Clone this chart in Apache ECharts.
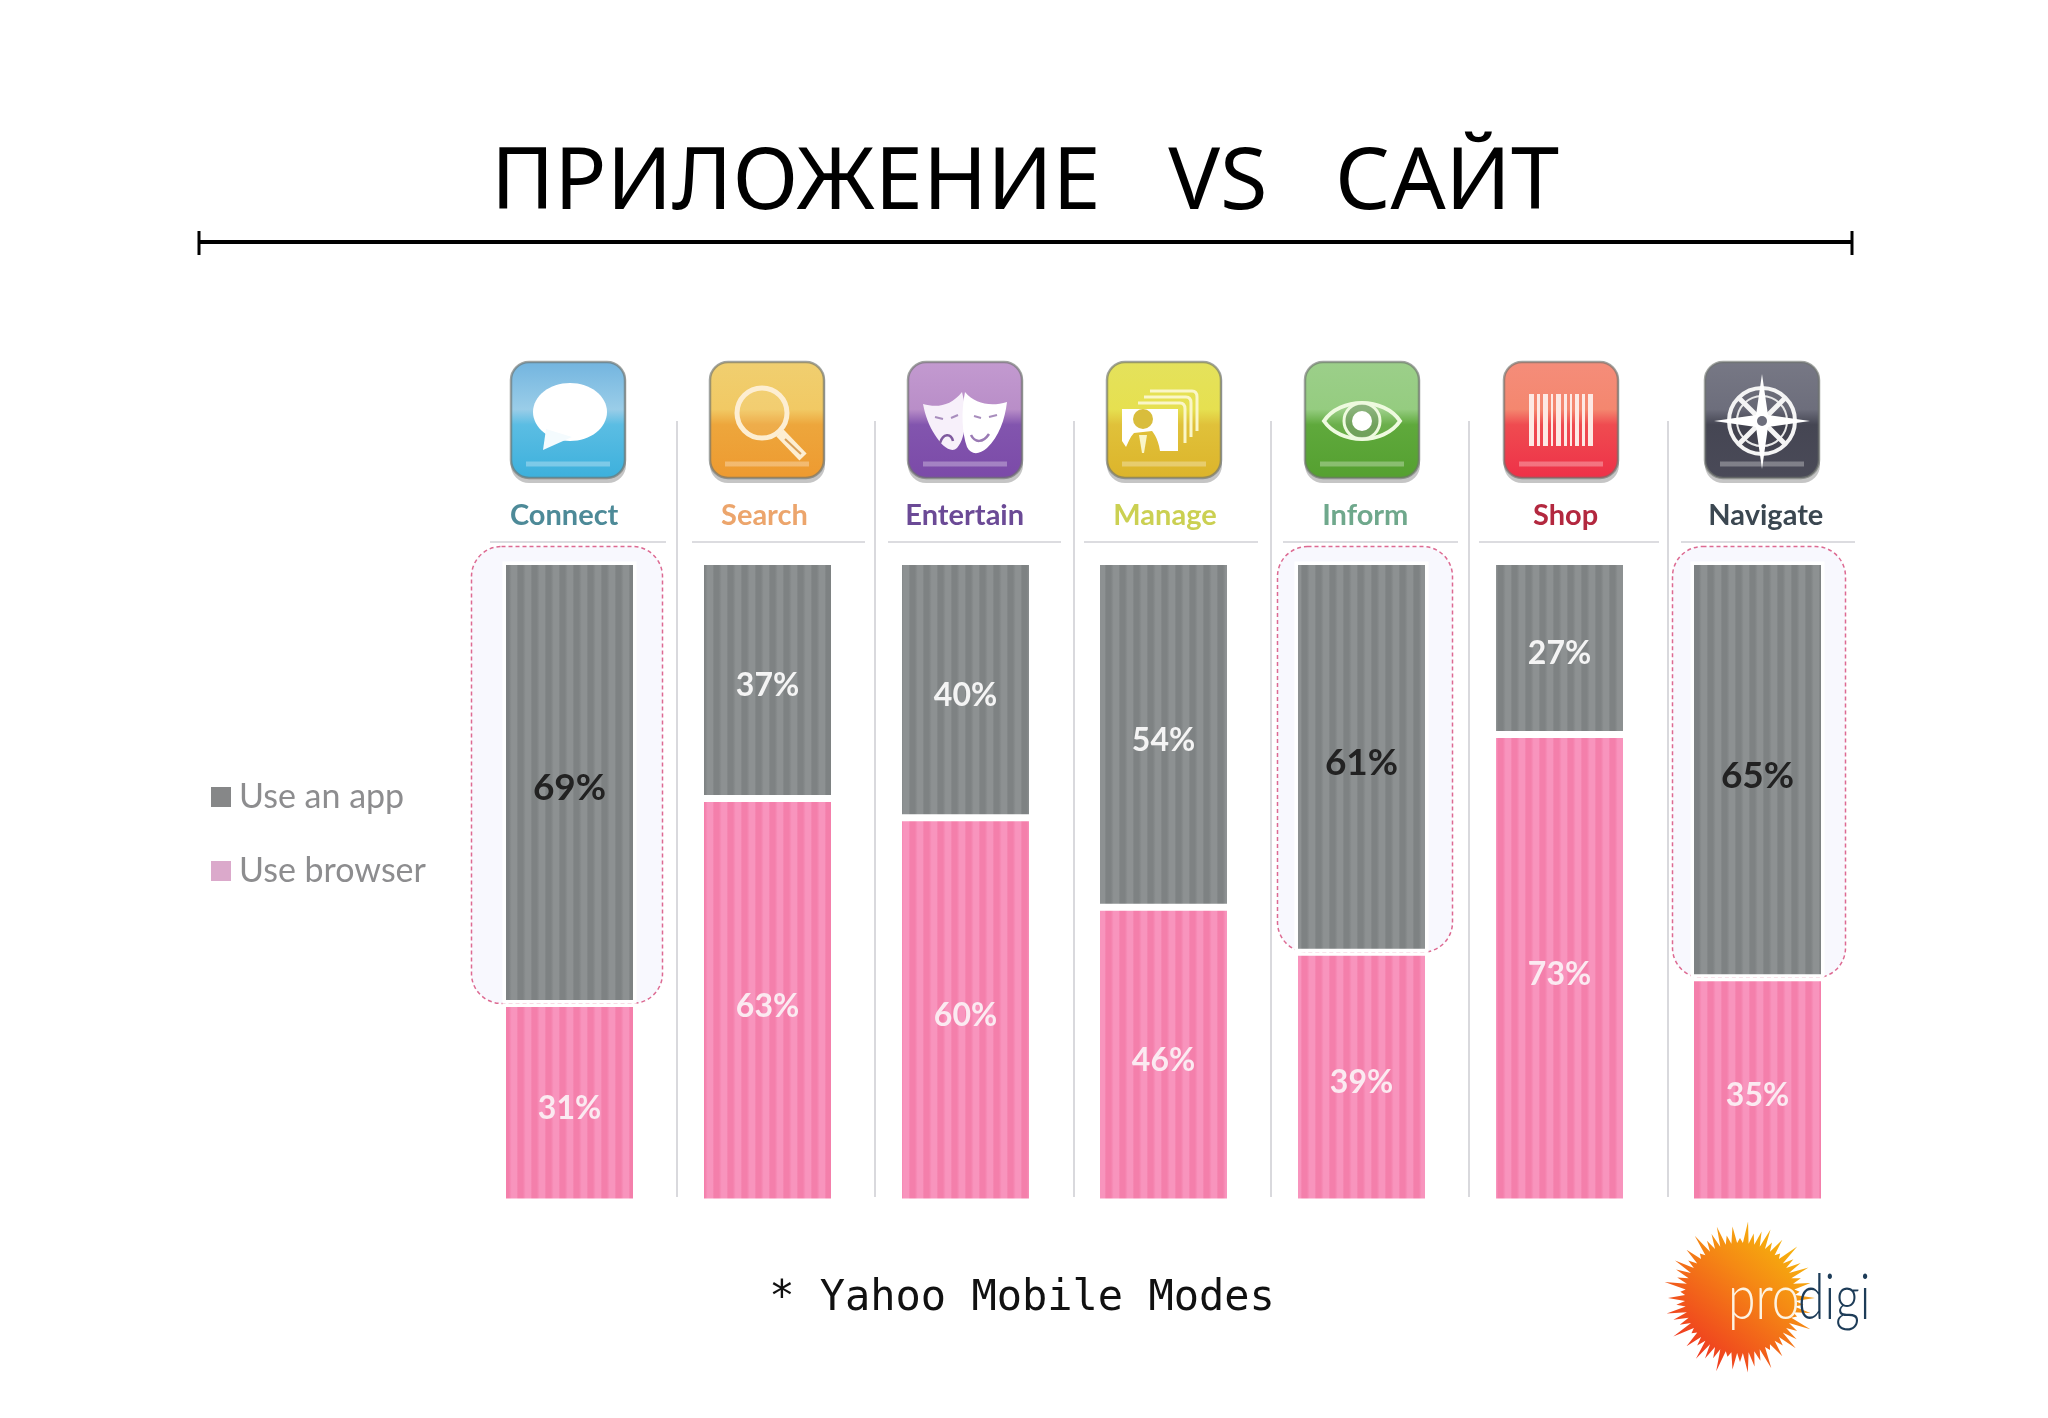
<!DOCTYPE html>
<html>
<head>
<meta charset="utf-8">
<title>Приложение vs сайт</title>
<script src="https://cdn.jsdelivr.net/npm/echarts@6/dist/echarts.min.js"></script>
<style>
    html, body { margin: 0; padding: 0; background: #fff; }
    #main { width: 2048px; height: 1418px; }
</style>
</head>
<body>
<div id="main"></div>
<script>
var categories = ['Connect', 'Search', 'Entertain', 'Manage', 'Inform', 'Shop', 'Navigate'];
var useApp = [69, 37, 40, 54, 61, 27, 65];
var useBrowser = [31, 63, 60, 46, 39, 73, 35];
var highlighted = [0, 4, 6];
var seriesNames = ['Use an app', 'Use browser'];

var categoryColors = ['#4d8a98', '#eca56c', '#6b4a96', '#cbd052', '#6fa88c', '#b3283f', '#3b4751'];
var iconColors = [
    ['#72b4df', '#9acde8', '#5bbde3', '#3cb0dc'],
    ['#f0cf70', '#f1c964', '#eda63c', '#ee9a30'],
    ['#c39ad0', '#b98ec8', '#8255ae', '#7b4aa8'],
    ['#e4e25c', '#e6e050', '#e0c13a', '#dcb42a'],
    ['#9ccf8a', '#95cc80', '#5fa93c', '#55a030'],
    ['#f58d7a', '#f4876f', '#ef4b50', '#ee3048'],
    ['#777885', '#6d6e7c', '#454653', '#4a4a58']
];
var iconCenters = [568, 767, 965, 1164, 1362, 1561, 1762];
var separators = [677, 875, 1074, 1271, 1469, 1668];
var headerRules = [[490, 666], [692, 865], [888, 1061], [1084, 1258], [1283, 1458], [1479, 1659], [1681, 1855]];

// striped fill for the bars
function stripes(dark, light) {
    var c = document.createElement('canvas');
    c.width = 14;
    c.height = 4;
    var ctx = c.getContext('2d');
    var g = ctx.createLinearGradient(0, 0, 14, 0);
    g.addColorStop(0, dark);
    g.addColorStop(0.35, dark);
    g.addColorStop(0.55, light);
    g.addColorStop(0.9, light);
    g.addColorStop(1, dark);
    ctx.fillStyle = g;
    ctx.fillRect(0, 0, 14, 4);
    return { image: c, repeat: 'repeat' };
}

function path(d, style) {
    return { type: 'path', shape: { pathData: d }, style: style };
}
function circle(cx, cy, r, style) {
    return { type: 'circle', shape: { cx: cx, cy: cy, r: r }, style: style };
}
function line(x1, y1, x2, y2, color, w) {
    return { type: 'line', shape: { x1: x1, y1: y1, x2: x2, y2: y2 }, style: { stroke: color, lineWidth: w } };
}
function box(x, y, w, h, fill) {
    return { type: 'rect', shape: { x: x, y: y, width: w, height: h }, style: { fill: fill } };
}

// white glyphs in the icons, relative to icon center
function glyph(i) {
    var out = [];
    var k;
    if (i == 0) {
        out.push({ type: 'ellipse', shape: { cx: 2, cy: -9, rx: 37, ry: 29 }, style: { fill: '#fff' } });
        out.push(path('M-22 8 L-25 29 L4 16 Z', { fill: '#f4fbfe' }));
    } else if (i == 1) {
        out.push(circle(-5, -8, 25, { fill: 'rgba(255,255,255,0.08)', stroke: '#fdeed2', lineWidth: 5 }));
        out.push(line(13, 12, 36, 36, '#fdeed2', 10));
        out.push(line(18, 18, 34, 33, '#d9a05a', 2));
    } else if (i == 2) {
        out.push(path('M-42 -17 C-28 -13 -14 -15 -3 -29 C2 -10 2 16 -8 27 C-14 33 -24 24 -30 14 C-36 5 -40 -6 -42 -17 Z', { fill: '#f7f0fa' }));
        out.push(path('M0 -29 C10 -17 26 -14 42 -19 C40 -2 34 16 22 27 C14 34 6 34 2 26 C-3 12 -4 -10 0 -29 Z', { fill: '#fff' }));
        out.push(path('M-25 22 C-22 12 -14 12 -12 20', { stroke: '#7f5a9e', lineWidth: 2.5, fill: 'none' }));
        out.push(path('M6 14 C10 22 18 22 24 13', { stroke: '#9a7ab4', lineWidth: 2.5, fill: 'none' }));
        out.push(line(-30, -4, -22, -2, '#a88dbd', 2));
        out.push(line(-14, -3, -7, -6, '#a88dbd', 2));
        out.push(line(9, -5, 16, -3, '#a88dbd', 2));
        out.push(line(24, -4, 32, -6, '#a88dbd', 2));
    } else if (i == 3) {
        out.push(path('M-14 -30 L28 -30 Q33 -30 33 -24 L33 10', { stroke: '#faf6c8', lineWidth: 3, fill: 'none' }));
        out.push(path('M-20 -24 L22 -24 Q27 -24 27 -18 L27 16', { stroke: '#faf6c8', lineWidth: 3, fill: 'none' }));
        out.push(path('M-26 -18 L16 -18 Q21 -18 21 -12 L21 22', { stroke: '#faf6c8', lineWidth: 3, fill: 'none' }));
        out.push(path('M-42 -12 L14 -12 L14 30 L-4 30 C-6 16 -12 10 -12 10 L-30 12 C-34 16 -36 22 -38 26 L-42 20 Z', { fill: '#fff' }));
        out.push(circle(-21, -2, 10, { fill: '#d9bd3c' }));
        out.push(path('M-25 14 L-17 14 L-20 32 L-22 32 Z', { fill: '#faf6c8' }));
    } else if (i == 4) {
        out.push(path('M-38 0 C-22 -24 22 -24 38 0 C22 24 -22 24 -38 0 Z', { stroke: '#eefadf', lineWidth: 4, fill: 'rgba(255,255,255,0.08)' }));
        out.push(circle(0, 0, 18, { stroke: '#eefadf', lineWidth: 3, fill: 'rgba(120,150,110,0.5)' }));
        out.push(circle(0, 0, 10, { fill: '#fff' }));
    } else if (i == 5) {
        var bars = [[-32, 5], [-24, 3], [-18, 5], [-10, 2], [-5, 5], [3, 3], [9, 2], [14, 4], [21, 3], [27, 5]];
        for (k = 0; k < bars.length; k++) {
            out.push(box(bars[k][0], -27, bars[k][1], 52, '#fde9e4'));
        }
    } else {
        out.push(circle(0, 0, 33, { stroke: '#f4f4f4', lineWidth: 4, fill: 'rgba(0,0,0,0.05)' }));
        out.push(circle(0, 0, 25, { stroke: '#e8e8e8', lineWidth: 2, fill: 'none' }));
        for (k = 0; k < 4; k++) {
            var a = Math.PI / 4 + k * Math.PI / 2;
            out.push(line(0, 0, 33 * Math.cos(a), 33 * Math.sin(a), '#f4f4f4', 5));
        }
        out.push(path('M0 -47 L6 -6 L48 0 L6 6 L0 48 L-6 6 L-48 0 L-6 -6 Z', { fill: '#fff' }));
        out.push(circle(0, 0, 5, { fill: '#6d6e7c' }));
    }
    return out;
}

function makeIcon(i) {
    var c = iconColors[i];
    var children = [
        { type: 'rect', shape: { x: -57, y: -57, width: 115, height: 119, r: 18 }, style: { fill: 'rgba(90,90,90,0.35)' } },
        {
            type: 'rect',
            shape: { x: -57, y: -59, width: 114, height: 116, r: 18 },
            style: {
                stroke: 'rgba(110,115,110,0.65)',
                lineWidth: 2.5,
                fill: new echarts.graphic.LinearGradient(0, 0, 0, 1, [
                    { offset: 0, color: c[0] },
                    { offset: 0.41, color: c[1] },
                    { offset: 0.54, color: c[2] },
                    { offset: 1, color: c[3] }
                ])
            }
        },
        line(-42, 43, 42, 43, 'rgba(255,255,255,0.3)', 5)
    ];
    return { type: 'group', x: iconCenters[i], y: 421, children: children.concat(glyph(i)) };
}

// logo: orange burst with the wordmark
function makeLogo() {
    var pts = [];
    var n = 60;
    var lengths = [75, 64, 72, 60, 77, 66, 70];
    for (var i = 0; i < n * 2; i++) {
        var a = i * Math.PI / n;
        var r = i % 2 == 0 ? lengths[(i / 2) % lengths.length] : 55;
        pts.push([r * Math.cos(a), r * Math.sin(a)]);
    }
    return {
        type: 'group',
        x: 1740,
        y: 1298,
        silent: true,
        children: [
            {
                type: 'polygon',
                shape: { points: pts },
                style: {
                    fill: new echarts.graphic.LinearGradient(0.85, 0, 0.1, 0.9, [
                        { offset: 0, color: '#f7c10a' },
                        { offset: 0.4, color: '#f58a14' },
                        { offset: 1, color: '#ee2f22' }
                    ])
                }
            },
            { type: 'text', x: -12, y: 0, scaleX: 0.78, style: { text: 'pro', fill: '#fdf3e2', font: '300 64px Lato', verticalAlign: 'middle' } },
            { type: 'text', x: 58, y: 0, scaleX: 0.75, style: { text: 'digi', fill: '#1d3c58', font: '300 64px Lato', verticalAlign: 'middle' } }
        ]
    };
}

function makeDecor() {
    var list = [
        line(199, 242, 1852, 242, '#000', 4),
        line(199, 231, 199, 255, '#000', 3),
        line(1852, 231, 1852, 255, '#000', 3),
        {
            type: 'text',
            x: 1022,
            y: 1299,
            style: { text: '* Yahoo Mobile Modes', fill: '#111', font: '42px "DejaVu Sans Mono"', align: 'center', verticalAlign: 'middle' }
        }
    ];
    var i;
    for (i = 0; i < separators.length; i++) {
        list.push(line(separators[i], 421, separators[i], 1197, '#d9d9dd', 2));
    }
    for (i = 0; i < headerRules.length; i++) {
        list.push(line(headerRules[i][0], 542, headerRules[i][1], 542, '#dcdce0', 2));
    }
    list.push(makeLogo());
    return list;
}

var labelFont = 'Lato, "Open Sans", sans-serif';

function appData() {
    return useApp.map(function (v, i) {
        var on = highlighted.indexOf(i) >= 0;
        return {
            value: v,
            label: { color: on ? '#222' : '#f4f4f4', fontSize: on ? 37 : 32 }
        };
    });
}

var boxSides = { 0: [98, 93], 4: [84, 91], 6: [85, 88] };

var chart = echarts.init(document.getElementById('main'));
chart.setOption({
    backgroundColor: '#fff',
    animation: false,
    title: {
        text: 'ПРИЛОЖЕНИЕ   VS   САЙТ',
        left: 1020,
        top: 136,
        textAlign: 'center',
        textStyle: { color: '#000', fontWeight: 'normal', fontSize: 86.5, fontFamily: '"Noto Sans", sans-serif' }
    },
    legend: {
        orient: 'vertical',
        left: 204,
        top: 775,
        icon: 'rect',
        itemWidth: 22,
        itemHeight: 22,
        itemGap: 40,
        data: [
            { name: seriesNames[0], itemStyle: { color: '#868788' } },
            { name: seriesNames[1], itemStyle: { color: '#dba9cb' } }
        ],
        textStyle: { color: '#8d8d8f', fontSize: 34, fontFamily: labelFont, padding: [0, 0, 0, 2] }
    },
    grid: [
        { left: 470.5, top: 561.5, width: 1386, height: 640.5 },
        { left: 464, top: 530, width: 1402, height: 1 }
    ],
    xAxis: [
        {
            type: 'category',
            gridIndex: 0,
            data: categories,
            axisLine: { show: false },
            axisTick: { show: false },
            axisLabel: { show: false }
        },
        {
            type: 'category',
            gridIndex: 1,
            position: 'top',
            data: categories.map(function (name, i) {
                return { value: name, textStyle: { color: categoryColors[i] } };
            }),
            axisLine: { show: false },
            axisTick: { show: false },
            axisLabel: { margin: 0, interval: 0, fontSize: 29, fontWeight: 'bold', fontFamily: labelFont }
        }
    ],
    yAxis: [
        { type: 'value', gridIndex: 0, min: 0, max: 100, show: false },
        { type: 'value', gridIndex: 1, min: 0, max: 100, show: false }
    ],
    graphic: makeDecor(),
    series: [
        {
            // icons above the columns
            type: 'custom',
            coordinateSystem: 'none',
            silent: true,
            data: categories.map(function (name, i) { return i; }),
            renderItem: function (params) {
                return makeIcon(params.dataIndex);
            }
        },
        {
            type: 'custom',
            xAxisIndex: 0,
            yAxisIndex: 0,
            z: 1,
            silent: true,
            data: highlighted.map(function (i) { return [i, useBrowser[i]]; }),
            encode: { x: 0, y: 1 },
            renderItem: function (params, api) {
                var sides = boxSides[api.value(0)];
                var x = api.coord([api.value(0), 0])[0];
                var yBottom = api.coord([api.value(0), api.value(1)])[1];
                var yTop = api.coord([api.value(0), 100])[1] - 15;
                return {
                    type: 'rect',
                    shape: { x: x - sides[0], y: yTop, width: sides[0] + sides[1], height: yBottom - yTop, r: 30 },
                    style: { fill: '#f8f8fe', stroke: '#dd6a92', lineWidth: 1.5, lineDash: [4, 3] }
                };
            }
        },
        {
            name: seriesNames[1],
            type: 'bar',
            stack: 'total',
            xAxisIndex: 0,
            yAxisIndex: 0,
            barWidth: 134,
            z: 2,
            data: useBrowser,
            itemStyle: { color: stripes('#f47fab', '#f894bd'), borderColor: '#fff', borderWidth: 3.5 },
            label: {
                show: true,
                position: 'inside',
                offset: [0, 6],
                formatter: '{c}%',
                color: '#fbeaf1',
                fontSize: 32,
                fontWeight: 'bold',
                fontFamily: labelFont
            }
        },
        {
            name: seriesNames[0],
            type: 'bar',
            stack: 'total',
            xAxisIndex: 0,
            yAxisIndex: 0,
            barWidth: 134,
            z: 2,
            data: appData(),
            itemStyle: { color: stripes('#7e8283', '#8d9192'), borderColor: '#fff', borderWidth: 3.5 },
            label: {
                show: true,
                position: 'inside',
                offset: [0, 6],
                formatter: '{c}%',
                fontWeight: 'bold',
                fontFamily: labelFont
            }
        }
    ]
});
</script>
</body>
</html>
